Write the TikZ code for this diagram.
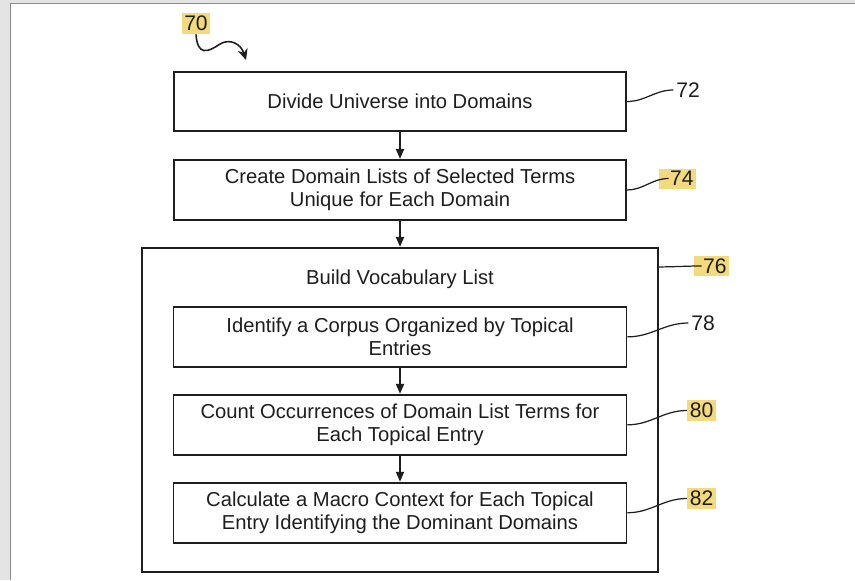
\documentclass[tikz,border=0pt]{standalone}
\usepackage{fontspec}
\setmainfont{Liberation Sans}
\usetikzlibrary{arrows.meta, positioning, calc}
\definecolor{marker}{RGB}{243,218,125}
\definecolor{panel}{RGB}{228,228,228}
\definecolor{rim}{RGB}{140,140,140}
\definecolor{ink}{RGB}{30,30,30}

\begin{document}
\begin{tikzpicture}[every node/.style={font=\fontsize{11.5}{13}\selectfont, text=ink},
   box/.style={draw=ink, line width=1.1pt, minimum width=9.06cm,
               minimum height=1.2cm, align=center, inner sep=2pt},
   frame/.style={draw=ink, line width=1.3pt, minimum width=10.32cm,
                 minimum height=6.48cm},
   num/.style={inner sep=1.5pt, font=\fontsize{12}{14}\selectfont},
   hilite/.style={num, fill=marker, minimum height=0.4cm},
   lead/.style={ink, line width=0.7pt},
   flow/.style={-{Triangle[length=2mm, width=1.6mm]}, ink, line width=1pt}]
  \useasboundingbox (0,0) rectangle (17.1,-11.6);
  \fill[panel] (0,0) rectangle (17.1,-11.6);
  \fill[white] (0.21,-0.07) rectangle (17.1,-11.6);
  \draw[rim, line width=0.8pt] (0.21,-11.6) |- (17.1,-0.07);

  \node[box, minimum width=9.04cm, minimum height=1.18cm] (divide) at (8.0,-2.03)
       {Divide Universe into Domains};
  \node[box, minimum width=9.04cm, below=0.54cm of divide] (create)
       {Create Domain Lists of Selected Terms\\Unique for Each Domain};
  \node[frame, below=0.52cm of create] (build) {};
  \node (title) at ($(build.north)+(0,-0.64)$) {Build Vocabulary List};
  \node[box, below=1.18cm of build.north] (identify)
       {Identify a Corpus Organized by Topical\\Entries};
  \node[box, below=0.52cm of identify] (count)
       {Count Occurrences of Domain List Terms for\\Each Topical Entry};
  \node[box, below=0.52cm of count] (macro)
       {Calculate a Macro Context for Each Topical\\Entry Identifying the Dominant Domains};

  \draw[flow] (divide) -- (create);
  \draw[flow] (create) -- (build);
  \draw[flow] (identify) -- (count);
  \draw[flow] (count) -- (macro);

  % reference numerals
  \node[hilite, minimum height=0.42cm] (n70) at (3.92,-0.47) {70};
  \node[num] (n72) at (13.76,-1.80) {72};
  \node[hilite, text width=0.64cm, align=right] (n74) at (13.55,-3.57) {74};
  \node[hilite, text width=0.60cm, align=right] (n76) at (14.23,-5.32) {76};
  \node[num] (n78) at (14.06,-6.46) {78};
  \node[hilite] (n80) at (14.03,-8.21) {80};
  \node[hilite] (n82) at (14.03,-9.97) {82};

  \coordinate (c70) at (4.92,-1.2);
  \coordinate (b76) at ($(build.north east)+(0,-0.4)$);
  \draw[lead, line width=0.9pt, -{Stealth[length=2.2mm, width=2mm]}] (n70.south)
       .. controls (3.95,-1.12) and (4.15,-1.05) .. (4.4,-0.88)
       .. controls (4.6,-0.76) and (4.82,-0.88) .. (c70);
  \draw[lead] (divide.east) to[out=0, in=180] (n72.west);
  \draw[lead] (create.east) to[out=0, in=180] ([xshift=0.2cm]n74.west);
  \draw[lead] (b76) to[out=0, in=180] ([xshift=0.16cm]n76.west);
  \draw[lead] (identify.east) to[out=0, in=180] (n78.west);
  \draw[lead] (count.east) to[out=0, in=180] (n80.west);
  \draw[lead] (macro.east) to[out=0, in=180] (n82.west);
\end{tikzpicture}
\end{document}
